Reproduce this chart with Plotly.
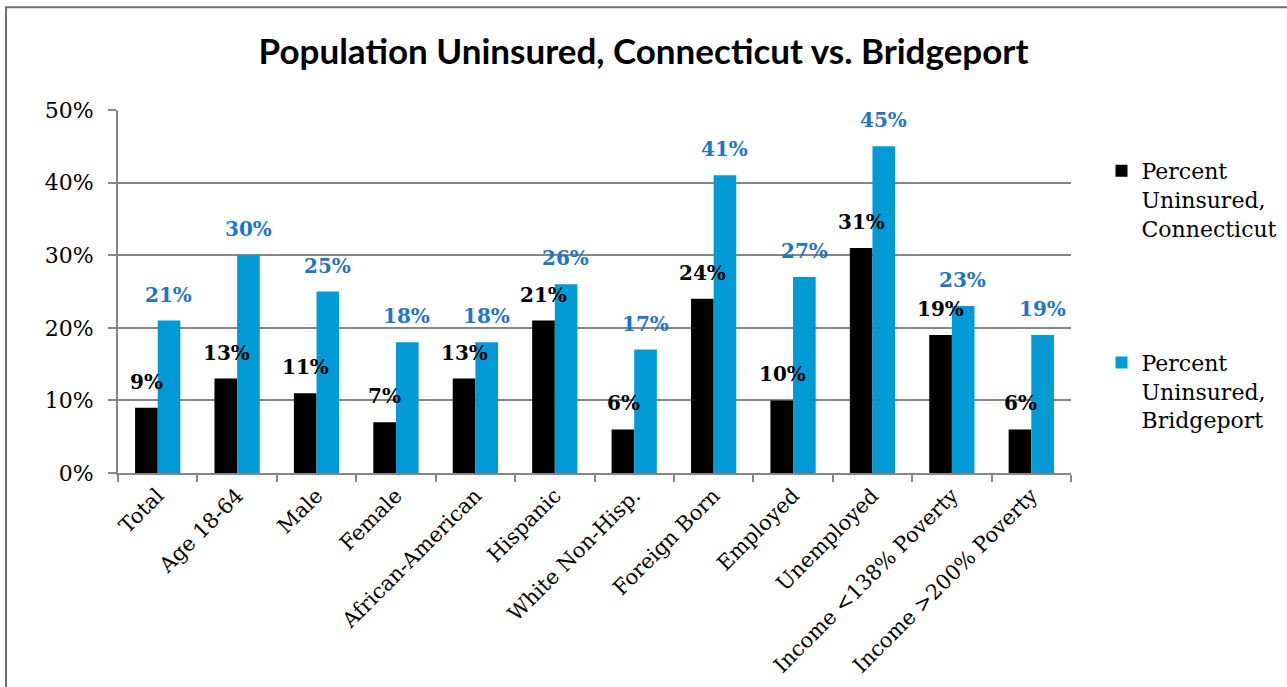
import plotly.graph_objects as go

categories = ["Total", "Age 18-64", "Male", "Female", "African-American", "Hispanic",
              "White Non-Hisp.", "Foreign Born", "Employed", "Unemployed",
              "Income <138% Poverty", "Income >200% Poverty"]
connecticut = [9, 13, 11, 7, 13, 21, 6, 24, 10, 31, 19, 6]
bridgeport = [21, 30, 25, 18, 18, 26, 17, 41, 27, 45, 23, 19]

CT_COLOR = "#000000"
BP_COLOR = "#009BD6"
BP_LABEL = "#1F75C8"
GRID = "#868686"
FRAME = "#6E6E6E"
SERIF = "DejaVu Serif, Liberation Serif, serif"

fig = go.Figure()
fig.add_trace(go.Bar(x=categories, y=connecticut, name="Percent<br>Uninsured,<br>Connecticut",
                     marker=dict(color=CT_COLOR, line=dict(width=0)), legendgroup="ct"))
fig.add_trace(go.Bar(x=categories, y=bridgeport, name="Percent<br>Uninsured,<br>Bridgeport",
                     marker=dict(color=BP_COLOR, line=dict(width=0)), legendgroup="bp"))

# value labels sit a little above each bar, shifted onto its half of the group
for cat, v in zip(categories, connecticut):
    fig.add_annotation(x=cat, y=v, text=f"<b>{v}%</b>", showarrow=False, xshift=-11,
                       yanchor="bottom", yshift=12, font=dict(family=SERIF, size=20, color=CT_COLOR))
for cat, v in zip(categories, bridgeport):
    fig.add_annotation(x=cat, y=v, text=f"<b>{v}%</b>", showarrow=False, xshift=11,
                       yanchor="bottom", yshift=12, font=dict(family=SERIF, size=20, color=BP_LABEL))

# outer chart frame (only its top and left edges fall inside the picture)
fig.add_shape(type="rect", xref="paper", yref="paper", x0=-0.1175, x1=1.25, y0=-0.7, y1=1.283,
              line=dict(color=FRAME, width=2), layer="below")

fig.update_layout(
    width=1287, height=687,
    margin=dict(l=118, r=216, t=110, b=214, autoexpand=False),
    paper_bgcolor="white", plot_bgcolor="white",
    barmode="group", bargap=0.43, bargroupgap=0,
    title=dict(text="<b>Population Uninsured, Connecticut vs. Bridgeport</b>",
               x=0.5, xanchor="center", y=0.925, yanchor="middle",
               font=dict(family="Lato, Open Sans, sans-serif", size=35, color="black")),
    font=dict(family=SERIF, color="black"),
    legend=dict(x=1.032, xanchor="left", y=0.89, yanchor="top", valign="top",
                tracegroupgap=103, font=dict(family=SERIF, size=22, color="black"),
                itemwidth=30),
    showlegend=True,
)
fig.update_yaxes(range=[0, 50], dtick=10, ticksuffix="%", showgrid=True, gridcolor=GRID,
                 gridwidth=2, showline=True, linecolor=GRID, linewidth=2, ticks="outside",
                 ticklen=8, tickcolor=GRID, tickwidth=2, ticklabelstandoff=10,
                 tickfont=dict(family=SERIF, size=22), zeroline=False)
fig.update_xaxes(showline=True, linecolor=GRID, linewidth=2, ticks="outside", tickson="boundaries",
                 ticklen=7, tickcolor=GRID, tickwidth=2, tickangle=-45,
                 tickfont=dict(family=SERIF, size=21))

fig.write_html("out.html", config={"displayModeBar": False},
               post_script="document.body.style.margin='0';")
